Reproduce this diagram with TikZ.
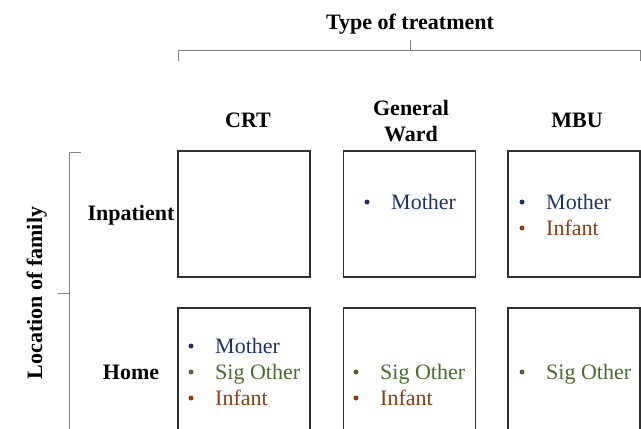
\documentclass[tikz,border=0pt]{standalone}
\usepackage{fontspec}
\setmainfont{Liberation Serif}
\usepackage{tikz}
\definecolor{mothercol}{HTML}{1F3169}
\definecolor{sigcol}{HTML}{4B6B2C}
\definecolor{infantcol}{HTML}{8E3B12}
\definecolor{bracketcol}{HTML}{808080}
\definecolor{boxcol}{HTML}{303030}

\tikzset{
    cell/.style={draw=boxcol, line width=1.3pt, minimum width=132pt, minimum height=126pt, inner sep=0pt},
    head/.style={font=\fontsize{22}{26}\selectfont\bfseries, align=center, inner sep=0pt},
    entry/.style={font=\fontsize{22}{26}\selectfont, anchor=base west, inner sep=0pt},
    dot/.style={circle, fill=#1, minimum size=5pt, inner sep=0pt},
    bracket/.style={draw=bracketcol, line width=1pt}
}

\begin{document}
\begin{tikzpicture}[x=1pt, y=-1pt]

    \useasboundingbox (0, 0) rectangle (641, 429);

    % Grid of cells
    \foreach \col/\cx in {1/244, 2/409.5, 3/574} {
        \foreach \row/\cy in {1/214, 2/371} {
            \node[cell] (cell\row\col) at (\cx, \cy) {};
        }
    }

    % Column headers
    \node[head] (crt) at (248, 120.5) {CRT};
    \node[head] (ward) at (411, 121) {General\\Ward};
    \node[head] (mbu) at (577, 120.5) {MBU};

    % Row headers
    \node[head, anchor=base] (inpatient) at (131, 220) {Inpatient};
    \node[head, anchor=base] (home) at (131, 379) {Home};

    % Axis titles
    \node[head, anchor=base] (treatment) at (410, 29) {Type of treatment};
    \node[head, anchor=base, rotate=90] (location) at (42, 293) {Location of family};

    % Top bracket
    \coordinate (tl) at (178, 61);
    \coordinate (tr) at (640, 61);
    \coordinate (tm) at (410, 40);
    \draw[bracket] (tl) |- (tr |- 0, 50) -- (tr);
    \draw[bracket] (tm) -- (tm |- 0, 50);

    % Left bracket
    \coordinate (lt) at (81, 152);
    \coordinate (lb) at (69, 440);
    \coordinate (lm) at (58, 293);
    \draw[bracket] (lt) -| (lb);
    \draw[bracket] (lm) -- (lb |- lm);

    % Who is in each cell
    \foreach \n/\bx/\tx/\by/\c/\t in {
        a/367/391/209/mothercol/Mother,
        b/522/546/209/mothercol/Mother,
        c/522/546/235/infantcol/Infant,
        d/191/215/353/mothercol/Mother,
        e/191/215/379/sigcol/Sig Other,
        f/191/215/405/infantcol/Infant,
        g/356/380/379/sigcol/Sig Other,
        h/356/380/405/infantcol/Infant,
        i/522/546/379/sigcol/Sig Other} {
        \node[dot=\c] (dot\n) at (\bx, \by - 7) {};
        \node[entry, text=\c] (who\n) at (\tx, \by) {\t};
    }

\end{tikzpicture}
\end{document}
